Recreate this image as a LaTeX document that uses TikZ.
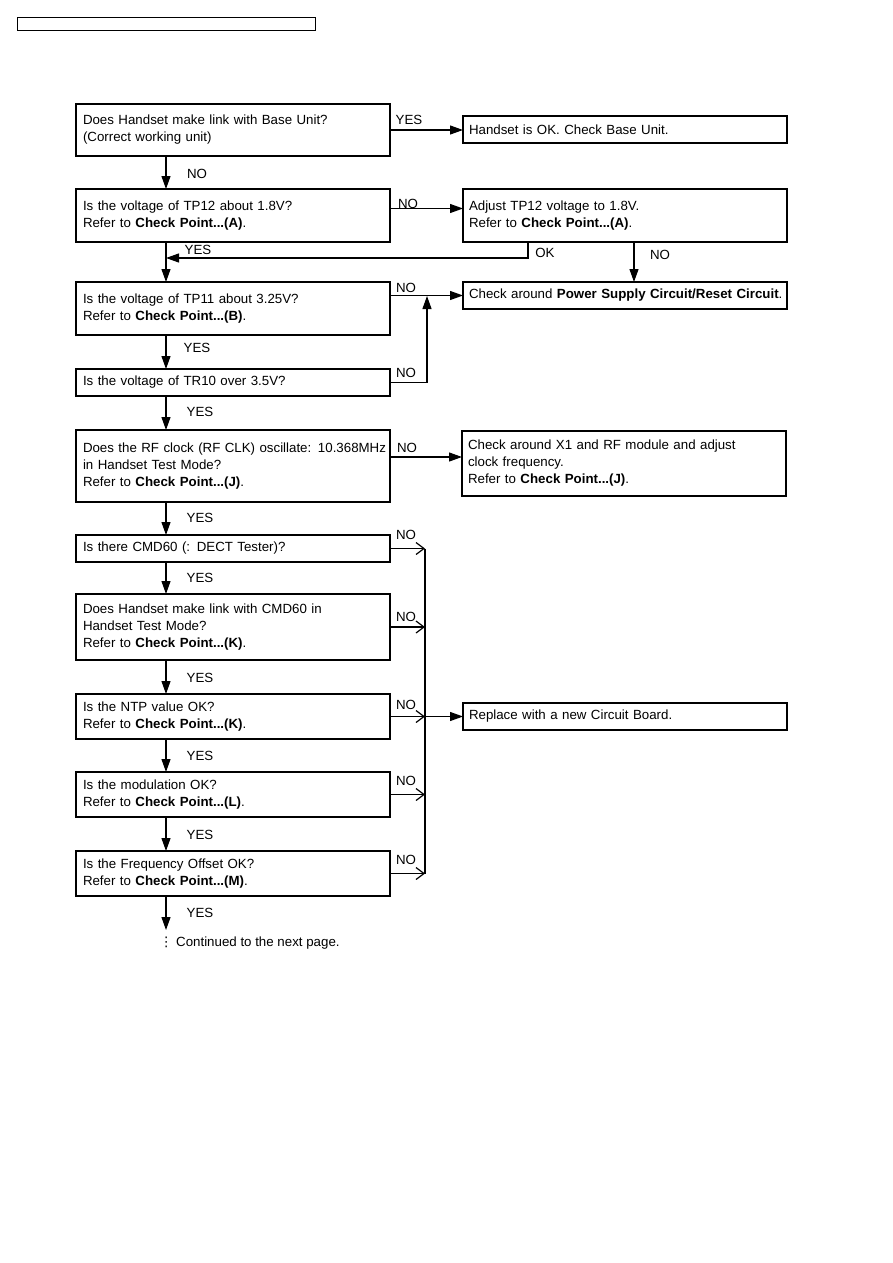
\documentclass[tikz,border=0pt]{standalone}
\usepackage{fontspec}
\setmainfont{Liberation Sans}
\newfontfamily\symfont{DejaVu Sans}
\usepackage{tikz}
\usetikzlibrary{arrows.meta, positioning, calc}

\begin{document}
\begin{tikzpicture}[x=1pt, y=-1pt,
    every node/.style={font=\fontsize{13.3}{17}\selectfont},
    qbox/.style={draw, rectangle, line width=1.2pt, anchor=north west, text width=300pt, inner xsep=7pt, inner ysep=0pt, outer sep=0pt, align=left, minimum width=314pt},
    abox/.style={qbox, text width=312pt, inner xsep=6pt, minimum width=324pt},
    arr/.style={line width=1.2pt, -{Triangle[length=13pt,width=9pt]}},
    barb/.style={line width=1.2pt, -{Straight Barb[length=8pt,width=12pt]}},
    lbl/.style={inner sep=0pt}]
\useasboundingbox (0,0) rectangle (893,1263);

\node[draw, line width=1pt, anchor=north west, minimum width=298pt, minimum height=13pt, inner sep=0pt] (hdr) at (17,17) {};

% question boxes
\node[qbox, minimum height=52pt] (b1) at (76,104) {Does Handset make link with Base Unit?\\(Correct working unit)};
\node[qbox, minimum height=53pt] (b2) at (76,189) {Is the voltage of TP12 about 1.8V?\\Refer to \textbf{Check Point...(A)}.};
\node[qbox, minimum height=53pt] (b3) at (76,282) {Is the voltage of TP11 about 3.25V?\\Refer to \textbf{Check Point...(B)}.};
\node[qbox, minimum height=27pt] (b4) at (76,369) {Is the voltage of TR10 over 3.5V?};
\node[qbox, minimum height=72pt] (b5) at (76,430) {\mbox{Does the RF clock (RF CLK) oscillate: 10.368MHz}\\in Handset Test Mode?\\Refer to \textbf{Check Point...(J)}.};
\node[qbox, minimum height=27pt] (b6) at (76,535) {Is there CMD60 (: DECT Tester)?};
\node[qbox, minimum height=66pt] (b7) at (76,594) {Does Handset make link with CMD60 in\\Handset Test Mode?\\Refer to \textbf{Check Point...(K)}.};
\node[qbox, minimum height=45pt] (b8) at (76,694) {Is the NTP value OK?\\Refer to \textbf{Check Point...(K)}.};
\node[qbox, minimum height=45pt] (b9) at (76,772) {Is the modulation OK?\\Refer to \textbf{Check Point...(L)}.};
\node[qbox, minimum height=45pt] (b10) at (76,851) {Is the Frequency Offset OK?\\Refer to \textbf{Check Point...(M)}.};

% action boxes
\node[abox, minimum height=27pt] (r1) at (463,116) {Handset is OK. Check Base Unit.};
\node[abox, minimum height=53pt] (r2) at (463,189) {Adjust TP12 voltage to 1.8V.\\Refer to \textbf{Check Point...(A)}.};
\node[abox, minimum height=27pt] (r3) at (463,282) {\mbox{Check around \textbf{Power Supply Circuit/Reset Circuit}.}};
\node[abox, minimum height=65pt] (r4) at (462,431) {Check around X1 and RF module and adjust\\clock frequency.\\Refer to \textbf{Check Point...(J)}.};
\node[abox, minimum height=27pt] (r5) at (463,703) {Replace with a new Circuit Board.};

\coordinate (spine) at (166,0);
\coordinate (bus) at (425,0);
\coordinate (j1) at (427,296);
\coordinate (okx) at (528,258);
\coordinate (join2) at (166,258);
\coordinate (nox) at (634,0);
\coordinate (cont) at (166,930);

% main line
\draw[arr] (b1.south -| spine) -- (b2.north -| spine);
\draw[arr] (b2.south -| spine) -- (b3.north -| spine);
\draw[arr] (b3.south -| spine) -- (b4.north -| spine);
\draw[arr] (b4.south -| spine) -- (b5.north -| spine);
\draw[arr] (b5.south -| spine) -- (b6.north -| spine);
\draw[arr] (b6.south -| spine) -- (b7.north -| spine);
\draw[arr] (b7.south -| spine) -- (b8.north -| spine);
\draw[arr] (b8.south -| spine) -- (b9.north -| spine);
\draw[arr] (b9.south -| spine) -- (b10.north -| spine);
\draw[arr] (b10.south -| spine) -- (cont);

% side branches
\draw[arr] (b1.east) -- (b1.east -| r1.west);
\draw[arr] ([yshift=7pt]b2.east) -- ([yshift=7pt]r2.west);
\draw[arr] (r2.south -| okx) |- (join2);
\draw[arr] (r2.south -| nox) -- (r3.north -| nox);
\draw[arr] (b3.east |- r3.west) -- (r3.west);
\draw[arr] (b4.east) -| (j1);
\draw[arr] ([yshift=9pt]b5.east) -- ([yshift=9pt]b5.east -| r4.west);

% NO bus
\draw[line width=1.2pt] (b6.east -| bus) -- (b10.east -| bus);
\foreach \b in {b6,b7,b8,b9,b10}
  \draw[barb] (\b.east) -- (\b.east -| bus);
\draw[arr] (b8.east -| bus) -- (r5.west);

% labels
\node[lbl] (l1) at (197,174) {NO};
\node[lbl] (l2) at (409,120) {YES};
\node[lbl] (l3) at (408,204) {NO};
\node[lbl] (l4) at (198,250) {YES};
\node[lbl] (l5) at (545,253) {OK};
\node[lbl] (l6) at (660,255) {NO};
\node[lbl] (l7) at (406,288) {NO};
\node[lbl] (l8) at (197,348) {YES};
\node[lbl] (l9) at (406,373) {NO};
\node[lbl] (l10) at (200,412) {YES};
\node[lbl] (l11) at (407,448) {NO};
\node[lbl] (l12) at (200,518) {YES};
\node[lbl] (l13) at (406,535) {NO};
\node[lbl] (l14) at (200,578) {YES};
\node[lbl] (l15) at (406,617) {NO};
\node[lbl] (l16) at (200,678) {YES};
\node[lbl] (l17) at (406,705) {NO};
\node[lbl] (l18) at (200,756) {YES};
\node[lbl] (l19) at (406,781) {NO};
\node[lbl] (l20) at (200,835) {YES};
\node[lbl] (l21) at (406,860) {NO};
\node[lbl] (l22) at (200,913) {YES};
\node[lbl, anchor=base west] (cnt) at (176,946) {Continued to the next page.};
\node[lbl, base left=3pt of cnt] (dots) {\symfont ⋮};
\end{tikzpicture}
\end{document}
